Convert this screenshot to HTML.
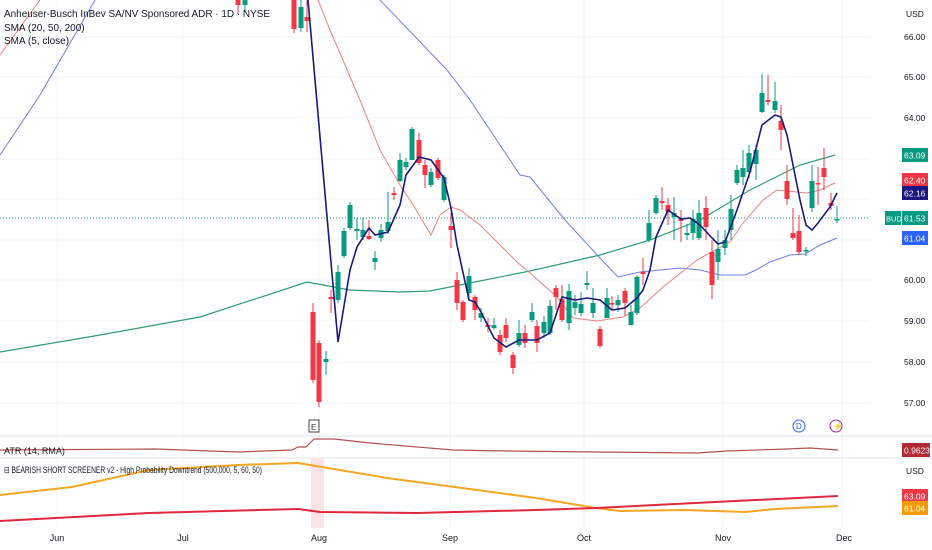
<!DOCTYPE html>
<html><head><meta charset="utf-8"><style>
html,body{margin:0;padding:0;background:#fff;width:932px;height:550px;overflow:hidden}
svg{display:block;font-family:"Liberation Sans",sans-serif}
</style></head><body>
<svg width="932" height="550" viewBox="0 0 932 550">
<g stroke="#f0f3fa" stroke-width="1">
<line x1="0" y1="37" x2="870" y2="37"/><line x1="0" y1="77" x2="870" y2="77"/><line x1="0" y1="118" x2="870" y2="118"/><line x1="0" y1="159" x2="870" y2="159"/><line x1="0" y1="199" x2="870" y2="199"/><line x1="0" y1="240" x2="870" y2="240"/><line x1="0" y1="280" x2="870" y2="280"/><line x1="0" y1="321" x2="870" y2="321"/><line x1="0" y1="362" x2="870" y2="362"/><line x1="0" y1="403" x2="870" y2="403"/>
<line x1="57" y1="0" x2="57" y2="528"/><line x1="183" y1="0" x2="183" y2="528"/><line x1="319" y1="0" x2="319" y2="528"/><line x1="450" y1="0" x2="450" y2="528"/><line x1="584" y1="0" x2="584" y2="528"/><line x1="723" y1="0" x2="723" y2="528"/><line x1="842" y1="0" x2="842" y2="528"/>
</g>
<line x1="0" y1="218" x2="870" y2="218" stroke="#089981" stroke-width="1" stroke-dasharray="1,2"/>
<polyline fill="none" stroke="#2e9e72" stroke-width="1.2" points="0,352 100,335 200,317 307,282 350,290 400,292 430,291 470,283 530,271 600,255 650,240 700,220 730,202 750,190 800,165 835,155"/>
<polyline fill="none" stroke="#6f7de8" stroke-width="1" points="0,155 40,95 95,0"/>
<polyline fill="none" stroke="#6f7de8" stroke-width="1" points="380,0 447,70 470,100 490,130 520,175 530,177 565,220 600,258 618,277 640,272 680,268 700,270 720,275 745,275 756,270 770,262 790,255 805,254 820,245 837,238"/>
<polyline fill="none" stroke="#f08080" stroke-width="1" points="0,55 40,0"/>
<polyline fill="none" stroke="#f08080" stroke-width="1" points="318,0 330,30 360,100 380,150 400,185 415,208 431,235 440,215 451,207 460,210 480,225 500,245 517,262 530,273 557,297 573,318 597,321 623,317 640,308 663,287 697,260 730,242 743,223 763,200 777,190 797,192 807,193 820,190 835,183"/>
<g id="c"></g>
<polyline fill="none" stroke="#1a1a7a" stroke-width="1.6" points="308,0 338,342 350,270 357,247 369,228 375,235 388,232 400,205 406,175 419,157 431,160 444,178 451,208 457,245 469,300 475,302 481,312 494,338 506,347 519,340 530,340 537,340 550,333 562,297 575,300 587,298 600,300 612,310 625,308 637,298 643,290 650,270 656,237 668,210 675,215 681,219 690,218 700,225 712,238 718,244 725,242 737,210 750,172 762,125 775,115 781,117 787,135 800,200 806,225 812,230 818,223 830,207 837,193"/>
<g font-size="10" fill="#131722">
<text x="4" y="17" textLength="266" lengthAdjust="spacingAndGlyphs">Anheuser-Busch InBev SA/NV Sponsored ADR · 1D · NYSE</text>
<text x="4" y="31">SMA (20, 50, 200)</text>
<text x="4" y="44">SMA (5, close)</text>
</g>
<g font-size="8.5" fill="#131722">
<text x="906" y="17">USD</text>
<text x="904" y="40">66.00</text><text x="904" y="80">65.00</text><text x="904" y="121">64.00</text>
<text x="904" y="283">60.00</text><text x="904" y="324">59.00</text><text x="904" y="365">58.00</text><text x="904" y="406">57.00</text>
</g>
<g font-size="8.5" fill="#fff">
<rect x="902" y="148" width="26" height="14" fill="#089981"/><text x="904" y="158.5">63.09</text>
<rect x="902" y="173" width="26" height="14" fill="#f23645"/><text x="904" y="183.5">62.40</text>
<rect x="902" y="186" width="26" height="14" fill="#1c1580"/><text x="904" y="196.5">62.16</text>
<rect x="885" y="211" width="16" height="14" fill="#089981"/><text x="886" y="221.5" font-size="7.5">BUD</text>
<rect x="902" y="211" width="26" height="14" fill="#089981"/><text x="904" y="221.5">61.53</text>
<rect x="902" y="231" width="26" height="14" fill="#2962ff"/><text x="904" y="241.5">61.04</text>
</g>
<rect x="309" y="420" width="10" height="12" fill="#fff" stroke="#444" stroke-width="1"/><text x="311" y="430" font-size="8" fill="#333">E</text>
<circle cx="799" cy="426" r="6" fill="#fff" stroke="#2962ff"/><text x="796" y="429" font-size="8" fill="#2962ff">D</text>
<circle cx="836" cy="426" r="6" fill="#fff" stroke="#9c27b0"/><text x="833" y="429" font-size="8" fill="#9c27b0">⚡</text>
<line x1="0" y1="436" x2="932" y2="436" stroke="#e0e3eb"/>
<line x1="0" y1="458" x2="932" y2="458" stroke="#e0e3eb"/>
<polyline fill="none" stroke="#b2524f" stroke-width="1.2" points="0,450 155,449 238,452 292,450 298,447 306,447 314,439 334,439 370,443 453,450 507,451 596,452 697,453 727,451 787,449 810,448 838,450"/>
<text x="4" y="454" font-size="9" fill="#131722">ATR (14, RMA)</text>
<rect x="902" y="443" width="28" height="14" fill="#b22833"/><text x="904" y="453.5" font-size="8.5" fill="#fff">0.9623</text>
<rect x="311" y="458" width="13" height="70" fill="#fde3e5"/>
<polyline fill="none" stroke="#f5a623" stroke-width="2" points="0,495 72,487 149,470 238,465 298,463 310,465 387,478 477,490 536,498 596,508 620,511 685,510 745,512 775,509 838,506"/>
<polyline fill="none" stroke="#e0283e" stroke-width="2" points="0,521 149,513 298,509 320,512 417,513 536,510 596,508 715,502 838,496"/>
<text x="4" y="473" font-size="9" fill="#131722" textLength="258" lengthAdjust="spacingAndGlyphs">⊟ BEARISH SHORT SCREENER v2 - High Probability Downtrend (500,000, 5, 60, 50)</text>
<text x="906" y="474" font-size="8.5" fill="#131722">USD</text>
<rect x="902" y="489" width="26" height="14" fill="#f23645"/><text x="904" y="499.5" font-size="8.5" fill="#fff">63.09</text>
<rect x="902" y="501" width="26" height="14" fill="#f59b00"/><text x="904" y="511.5" font-size="8.5" fill="#fff">61.04</text>
<g font-size="9" fill="#131722" text-anchor="middle">
<text x="57" y="541">Jun</text><text x="183" y="541">Jul</text><text x="319" y="541">Aug</text><text x="450" y="541">Sep</text><text x="584" y="541">Oct</text><text x="723" y="541">Nov</text><text x="844" y="541">Dec</text>
</g>
</svg>
<script>
var d=[[238,-2,5,-8,14,'r'],[245,-2,5,-8,12,'g'],[294,0,29,-5,33,'r'],[301,7,28,0,32,'g'],[307,17,21,0,32,'r'],
[313,312,380,303,383,'r'],[319,343,402,340,407,'r'],[326,359,362,351,375,'g'],[331,297,299,290,313,'r'],[338,272,300,265,303,'g'],[344,231,256,228,258,'g'],[350,205,228,202,230,'g'],[357,229,231,218,240,'g'],[363,230,237,218,240,'g'],[369,236,239,220,240,'r'],[375,258,262,251,270,'g'],[381,230,238,224,242,'g'],[388,222,231,192,234,'g'],[394,193,195,187,200,'r'],[400,160,181,153,182,'g'],[406,162,167,158,170,'g'],[412,129,160,127,160,'g'],[419,140,163,133,165,'r'],[425,165,175,160,188,'r'],[431,172,185,168,187,'g'],[438,160,178,158,180,'r'],[444,177,200,175,202,'g'],[451,226,230,213,248,'r'],[457,280,303,272,310,'r'],[463,302,320,300,322,'r'],[469,276,293,268,300,'g'],[475,297,310,295,320,'r'],[481,313,318,308,322,'g'],[488,325,327,318,332,'r'],[494,325,328,318,330,'g'],[500,335,352,330,355,'r'],[506,325,338,318,342,'r'],[513,355,368,352,374,'r'],[519,333,345,320,347,'g'],[525,333,343,325,348,'r'],
[532,312,320,303,322,'g'],[537,326,343,320,352,'r'],[544,322,333,316,338,'g'],[550,306,333,300,335,'g'],[556,288,297,285,310,'r'],[562,299,320,285,322,'r'],[569,291,323,284,330,'g'],[575,302,308,295,315,'g'],[581,304,313,292,316,'g'],[587,283,285,271,290,'g'],[593,303,313,288,318,'g'],[600,329,346,326,348,'r'],[607,298,318,288,318,'g'],[612,303,304,296,310,'r'],[618,300,305,295,312,'g'],[625,291,303,288,316,'r'],[631,312,325,305,325,'g'],[637,277,313,275,315,'g'],[643,272,274,258,285,'r'],[649,223,240,210,242,'g'],[656,198,213,195,215,'g'],[662,201,203,187,210,'r'],[668,205,212,198,225,'r'],[674,213,217,197,240,'g'],[681,219,221,210,242,'r'],[687,233,235,224,240,'g'],[693,219,233,210,240,'g'],[699,213,238,200,240,'g'],[706,208,227,196,240,'r'],[712,252,285,240,299,'r'],[718,249,262,230,280,'g'],[725,240,248,230,255,'g'],[731,209,230,195,240,'g'],[737,170,183,165,185,'g'],[743,168,177,150,185,'g'],[749,153,172,145,178,'g'],[756,150,164,145,180,'g'],[762,93,112,74,113,'g'],[768,100,102,75,105,'r'],[775,101,110,82,113,'g'],[781,121,130,105,150,'r'],[787,181,199,165,205,'r'],[793,233,238,208,240,'r'],[799,231,252,215,255,'r'],[806,250,251,247,256,'g'],[812,181,208,165,212,'g'],[818,183,184,167,205,'r'],[824,168,177,148,190,'r'],[831,203,206,193,210,'r'],[837,219,220,206,223,'g']];
var s='';d.forEach(function(c){var col=c[5]=='g'?'#089981':'#f23645';var h=Math.max(1.5,c[2]-c[1]);
s+='<line x1="'+c[0]+'" y1="'+c[3]+'" x2="'+c[0]+'" y2="'+c[4]+'" stroke="'+col+'" stroke-width="1"/>';
s+='<rect x="'+(c[0]-2.5)+'" y="'+c[1]+'" width="5" height="'+h+'" fill="'+col+'"/>';});
document.getElementById('c').innerHTML=s;
</script>
</body></html>
